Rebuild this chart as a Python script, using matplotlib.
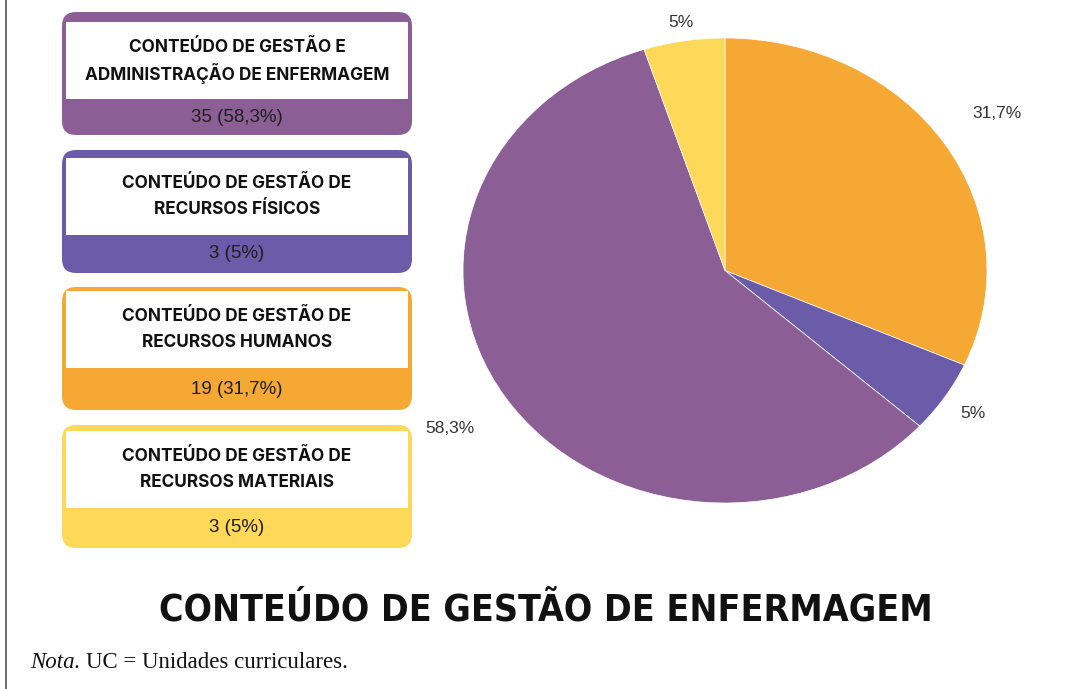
import matplotlib
matplotlib.use("Agg")
import numpy as np
import matplotlib.pyplot as plt
from matplotlib.patches import FancyBboxPatch, Rectangle
from matplotlib.lines import Line2D

# Data (boxes top to bottom)
categories = [
    ["CONTEÚDO DE GESTÃO E", "ADMINISTRAÇÃO DE ENFERMAGEM"],
    ["CONTEÚDO DE GESTÃO DE", "RECURSOS FÍSICOS"],
    ["CONTEÚDO DE GESTÃO DE", "RECURSOS HUMANOS"],
    ["CONTEÚDO DE GESTÃO DE", "RECURSOS MATERIAIS"],
]
counts = [35, 3, 19, 3]
percents = [58.3, 5.0, 31.7, 5.0]
colors = ["#8B5F96", "#6A5CA8", "#F5A934", "#FED858"]

# pie goes clockwise from 12 o'clock: humanos, fisicos, administracao, materiais
pie_order = [2, 1, 0, 3]
title = "CONTEÚDO DE GESTÃO DE ENFERMAGEM"
note_italic = "Nota."
note_rest = "UC = Unidades curriculares."


def fmt_pct(p):
    s = f"{p:.1f}".replace(".", ",")
    if s.endswith(",0"):
        s = s[:-2]
    return s + "%"


W, H = 1065, 689
fig = plt.figure(figsize=(W / 100, H / 100), dpi=100)
bg = fig.add_axes([0, 0, 1, 1])
bg.set_xlim(0, W)
bg.set_ylim(H, 0)
bg.axis("off")

# left border line
bg.add_line(Line2D([6, 6], [0, H], color="#555555", lw=1.2))

# category boxes
box_tops = [12, 150, 287, 425]
inner_offsets = [10, 8, 4, 6]
box_x, box_w, box_h = 62, 350, 123
inner_x, inner_w, inner_h = 66, 342, 77

for i, lines in enumerate(categories):
    top = box_tops[i]
    bg.add_patch(FancyBboxPatch((box_x, top), box_w, box_h,
                                boxstyle="round,pad=0,rounding_size=14",
                                fc=colors[i], ec="none"))
    itop = top + inner_offsets[i]
    bg.add_patch(Rectangle((inner_x, itop), inner_w, inner_h, fc="white", ec="none"))
    cx = box_x + box_w / 2
    mid = itop + inner_h / 2
    for j, line in enumerate(lines):
        bg.text(cx, mid + (j - 0.5) * 26.5, line, ha="center", va="center",
                fontsize=12.4, fontweight="bold", family="Inter", color="#111111")
    bg.text(cx, itop + inner_h + (top + box_h - itop - inner_h) / 2,
            f"{counts[i]} ({fmt_pct(percents[i])})", ha="center", va="center",
            fontsize=13.5, family="Liberation Sans", color="#1e1e1e")

# title and note
bg.text(546, 610, title, ha="center", va="center", fontsize=26.8,
        fontweight="bold", family="DejaVu Sans", fontstretch="condensed",
        color="#111111")
t = bg.text(30, 663, note_italic, ha="left", va="center", fontsize=16.5,
            style="italic", family="Liberation Serif", color="#111111")
fig.canvas.draw()
bb = t.get_window_extent()
bg.text(30 + bb.width + 6, 663, note_rest, ha="left", va="center", fontsize=16.5,
        family="Liberation Serif", color="#111111")

# pie (elliptical, as in the reference)
pie_ax = fig.add_axes([463 / W, (H - 503) / H, 524 / W, 465 / H])
vals = [counts[k] for k in pie_order]
labs = [fmt_pct(percents[k]) for k in pie_order]
cols = [colors[k] for k in pie_order]
wedges, _ = pie_ax.pie(vals, colors=cols, startangle=90, counterclock=False,
                       wedgeprops=dict(edgecolor="white", linewidth=0.5))
pie_ax.set_aspect("auto")
pie_ax.set_xlim(-1, 1)
pie_ax.set_ylim(-1, 1)

label_dist = [1.24, 1.13, 1.25, 1.08]
for w, lab, d in zip(wedges, labs, label_dist):
    ang = np.deg2rad((w.theta1 + w.theta2) / 2)
    pie_ax.text(d * np.cos(ang), d * np.sin(ang), lab, ha="center", va="center",
                fontsize=12.5, family="Liberation Sans", color="#333333")

fig.savefig("out.png", dpi=100)
